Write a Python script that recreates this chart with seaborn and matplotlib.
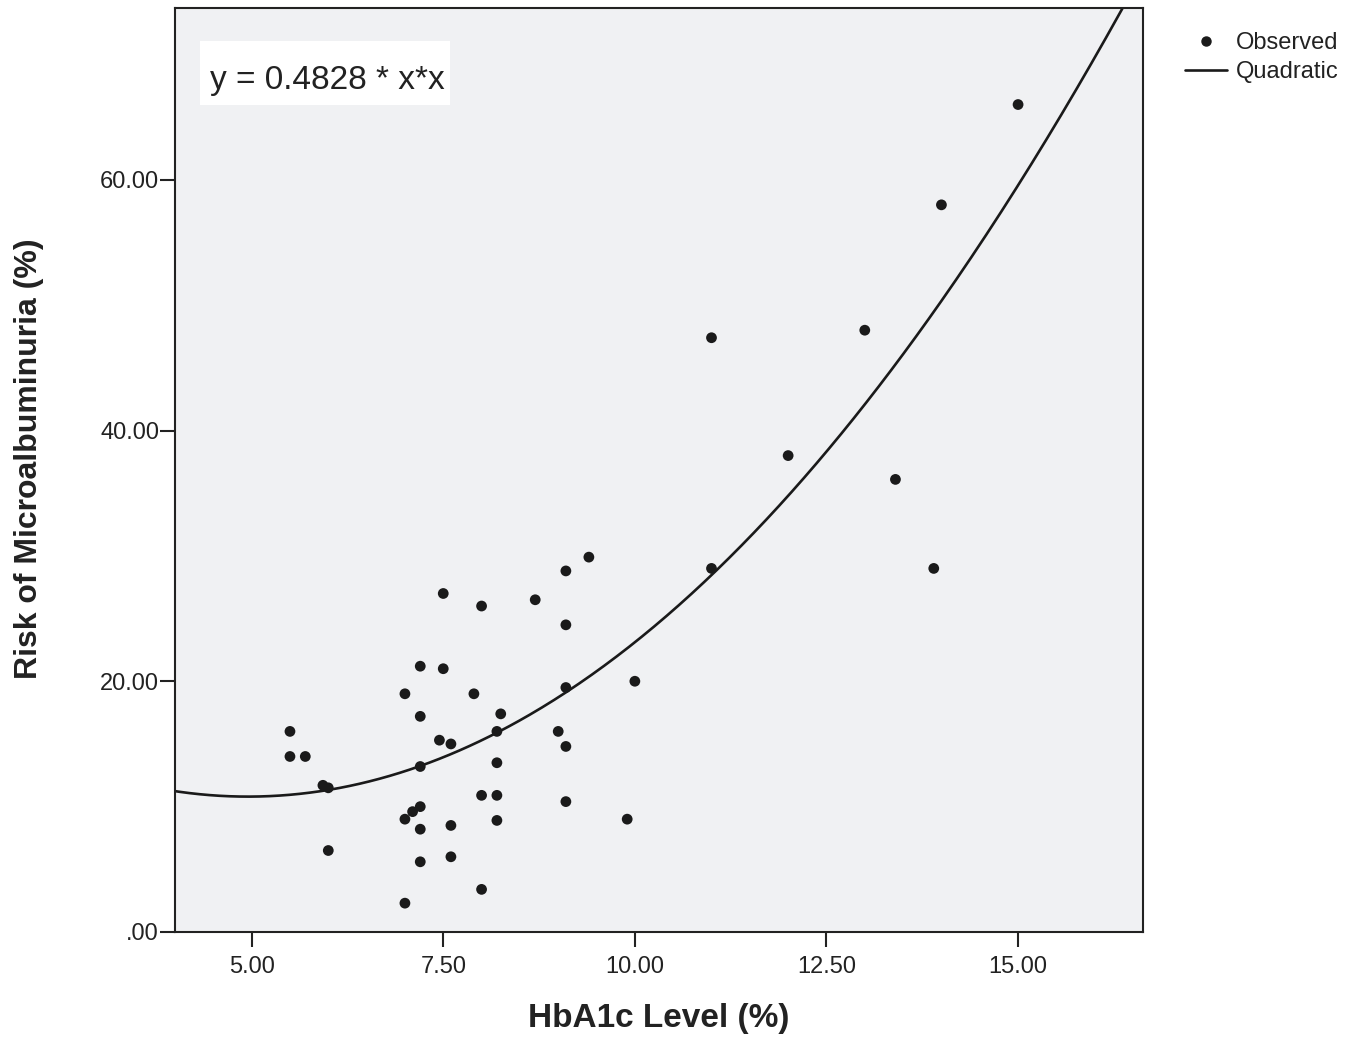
import numpy as np
import pandas as pd
import matplotlib
matplotlib.use("Agg")
import matplotlib.pyplot as plt
from matplotlib.ticker import FuncFormatter, FixedLocator
from matplotlib.lines import Line2D
from matplotlib.patches import Rectangle
import seaborn as sns

hba1c = [5.5, 5.5, 5.7, 5.93, 6.0, 6.0,
         7.0, 7.0, 7.0, 7.1, 7.2, 7.2, 7.2, 7.2, 7.2, 7.2,
         7.45, 7.5, 7.5, 7.6, 7.6, 7.6, 7.9, 8.0, 8.0, 8.0,
         8.2, 8.2, 8.2, 8.2, 8.25, 8.7, 9.0, 9.1, 9.1, 9.1, 9.1, 9.1,
         9.4, 9.9, 10.0, 11.0, 11.0, 12.0, 13.0, 13.4, 13.9, 14.0, 15.0]
risk = [16.0, 14.0, 14.0, 11.7, 11.5, 6.5,
        19.0, 9.0, 2.3, 9.6, 21.2, 17.2, 13.2, 10.0, 8.2, 5.6,
        15.3, 27.0, 21.0, 15.0, 8.5, 6.0, 19.0, 26.0, 10.9, 3.4,
        16.0, 13.5, 10.9, 8.9, 17.4, 26.5, 16.0, 28.8, 24.5, 19.5, 14.8, 10.4,
        29.9, 9.0, 20.0, 47.4, 29.0, 38.0, 48.0, 36.1, 29.0, 58.0, 66.0]

# Quadratic fit coefficients: y = a + b*x + c*x^2
quad_a = 22.63
quad_b = -4.78
quad_c = 0.4828
equation_label = "y = 0.4828 * x*x"

x_ticks = [5.0, 7.5, 10.0, 12.5, 15.0]
y_ticks = [0.0, 20.0, 40.0, 60.0]
x_label = "HbA1c Level (%)"
y_label = "Risk of Microalbuminuria (%)"

sns.set_theme(style="white")
plt.rcParams['font.family'] = ['Liberation Sans', 'DejaVu Sans']

fig = plt.figure(figsize=(13.54, 10.38), dpi=100)
ax = fig.add_axes([175/1354, 1 - 932/1038, (1143-175)/1354, (932-8)/1038])
ax.set_facecolor("#f0f1f3")

df = pd.DataFrame({"x": hba1c, "y": risk})
sns.scatterplot(data=df, x="x", y="y", ax=ax, color="#1a1a1a", s=60,
                edgecolor="none", zorder=3, legend=False)

xs = np.linspace(3.8, 16.8, 400)
curve = pd.DataFrame({"x": xs, "y": quad_a + quad_b * xs + quad_c * xs ** 2})
sns.lineplot(data=curve, x="x", y="y", ax=ax, color="#1a1a1a", linewidth=1.9,
             zorder=2, legend=False)

ax.set_xlim(4.0, 16.63)
ax.set_ylim(0, 73.7)
ax.xaxis.set_major_locator(FixedLocator(x_ticks))
ax.yaxis.set_major_locator(FixedLocator(y_ticks))

def fmt(v, pos):
    s = f"{v:.2f}"
    return ".00" if v == 0 else s

ax.xaxis.set_major_formatter(FuncFormatter(fmt))
ax.yaxis.set_major_formatter(FuncFormatter(fmt))
ax.tick_params(axis="both", direction="out", length=11, width=1.5, color="#222222",
               labelcolor="#222222", labelsize=17, bottom=True, left=True)
ax.tick_params(axis="x", pad=6)
ax.tick_params(axis="y", pad=0.5)
for sp in ax.spines.values():
    sp.set_visible(True)
    sp.set_color("#222222")
    sp.set_linewidth(1.5)

ax.set_xlabel(x_label, fontsize=24, fontweight="bold", color="#222222", labelpad=18)
ax.set_ylabel(y_label, fontsize=23, fontweight="bold", color="#222222", labelpad=40)
ax.yaxis.label.set_y(0.512)

# equation box
ax.add_patch(Rectangle((25/968, (932-105)/924), 250/968, 64/924,
                       transform=ax.transAxes, facecolor="white", edgecolor="none",
                       zorder=4))
ax.text(35/968, (932-89)/924, equation_label, transform=ax.transAxes, fontsize=24,
        color="#222222", va="baseline", ha="left", zorder=5)

handles = [
    Line2D([], [], marker="o", linestyle="none", color="#1a1a1a", markersize=6.5),
    Line2D([], [], color="#1a1a1a", linewidth=1.9),
]
fig.legend(handles, ["Observed", "Quadratic"], loc="upper left",
           bbox_to_anchor=(1173/1354, 1 - 20/1038), frameon=False, fontsize=17,
           handlelength=1.8, handletextpad=0.35, labelspacing=0.3,
           borderpad=0, labelcolor="#222222")

fig.savefig("out.png", dpi=100, facecolor="white")
